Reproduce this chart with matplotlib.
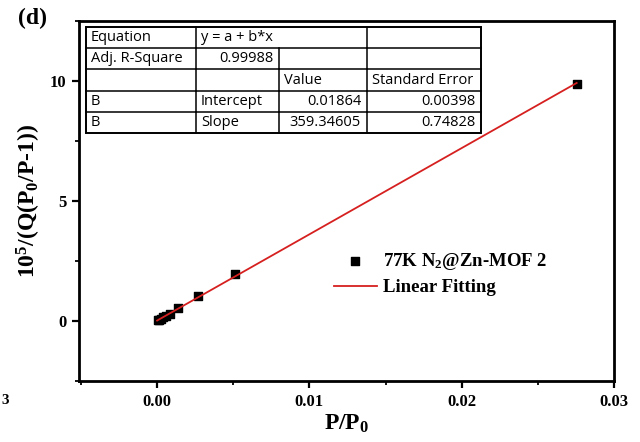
import matplotlib
matplotlib.use("Agg")
import matplotlib.pyplot as plt
from matplotlib.ticker import MultipleLocator
from matplotlib.patches import Rectangle
import numpy as np

# Data
x_pts = [0.00003, 0.00012, 0.00025, 0.0004, 0.0006, 0.00085, 0.0014, 0.00267, 0.00512, 0.02755]
y_pts = [0.03, 0.06, 0.10, 0.15, 0.22, 0.31, 0.55, 1.05, 1.96, 9.87]
intercept = 0.01864
slope = 359.34605
fit_x = [0.0, 0.02755]

table_rows = [
    ["Equation", "y = a + b*x", "", ""],
    ["Adj. R-Square", "0.99988", "", ""],
    ["", "", "Value", "Standard Error"],
    ["B", "Intercept", "0.01864", "0.00398"],
    ["B", "Slope", "359.34605", "0.74828"],
]

serif = "Liberation Serif"
plt.rcParams["mathtext.fontset"] = "custom"
plt.rcParams["mathtext.rm"] = "Liberation Serif:bold"
plt.rcParams["mathtext.it"] = "Liberation Serif:bold"
plt.rcParams["mathtext.bf"] = "Liberation Serif:bold"

W, H = 640, 442
fig = plt.figure(figsize=(W/100, H/100), dpi=100)
L, R, T, B = 79, 614, 21, 381
ax = fig.add_axes([L/W, 1-B/H, (R-L)/W, (B-T)/H])

ax.scatter(x_pts, y_pts, marker="s", s=32, color="black", zorder=3,
           label="77K N$_2$@Zn-MOF 2")
fx = np.array(fit_x)
ax.plot(fx, intercept + slope*fx, color="#d62020", lw=1.3, zorder=4,
        label="Linear Fitting")

ax.set_xlim(-0.00513, 0.03)
ax.set_ylim(-2.5, 12.5)
ax.xaxis.set_minor_locator(MultipleLocator(0.005))
ax.yaxis.set_minor_locator(MultipleLocator(2.5))
ax.set_xticks([0.0, 0.01, 0.02, 0.03])
ax.set_xticklabels(["0.00", "0.01", "0.02", "0.03"])
ax.set_yticks([0, 5, 10])
ax.set_yticklabels(["0", "5", "10"])
for lab in ax.get_xticklabels() + ax.get_yticklabels():
    lab.set_fontfamily(serif)
    lab.set_fontweight("bold")
    lab.set_fontsize(12)
ax.tick_params(which="major", direction="out", length=5, width=1.6, pad=4)
ax.tick_params(which="minor", direction="out", length=3, width=1.3)
for s in ax.spines.values():
    s.set_linewidth(2)

ax.set_xlabel("P/P$_0$", fontfamily=serif, fontweight="bold", fontsize=17, labelpad=2)
ax.set_ylabel("10$^5$/(Q(P$_0$/P-1))", fontfamily=serif, fontweight="bold", fontsize=17, labelpad=5)

leg = ax.legend(loc="upper left", bbox_to_anchor=((326-L)/(R-L), 1-(243-T)/(B-T)),
                frameon=False, prop={"family": serif, "weight": "bold", "size": 13.5},
                handlelength=2.3, handletextpad=0.35, labelspacing=0.42, borderaxespad=0)

# Table drawn in figure pixel coordinates
cols = [86, 196, 279, 367, 481]
rows = [27, 48, 69, 91, 112, 133]
def fx_(px): return px / W
def fy_(py): return 1 - py / H
lw = 1.1
def hline(y, x0, x1, w=lw):
    fig.add_artist(plt.Line2D([fx_(x0), fx_(x1)], [fy_(y), fy_(y)], color="black", lw=w, zorder=11))
def vline(x, y0, y1, w=lw):
    fig.add_artist(plt.Line2D([fx_(x), fx_(x)], [fy_(y0), fy_(y1)], color="black", lw=w, zorder=11))
fig.add_artist(Rectangle((fx_(cols[0]), fy_(rows[-1])), (cols[-1]-cols[0])/W, (rows[-1]-rows[0])/H,
                         transform=fig.transFigure, facecolor="white", edgecolor="black", lw=1.3, zorder=10))
for y in rows:
    hline(y, cols[0], cols[-1])
for i, x in enumerate(cols):
    for r in range(len(rows)-1):
        if r == 0 and i == 2:
            continue
        vline(x, rows[r], rows[r+1])
tfont = dict(family="Open Sans", size=10.5, color="black", zorder=12)
right_cells = {(1, 1), (3, 2), (3, 3), (4, 2), (4, 3)}
for r, row in enumerate(table_rows):
    for c, txt in enumerate(row):
        if not txt:
            continue
        yc = fy_((rows[r] + rows[r+1]) / 2)
        if (r, c) in right_cells:
            fig.text(fx_(cols[c+1] - 6), yc, txt, ha="right", va="center", **tfont)
        else:
            fig.text(fx_(cols[c] + 5), yc, txt, ha="left", va="center", **tfont)

fig.text(fx_(18), fy_(18), "(d)", fontfamily=serif, fontweight="bold", fontsize=17, ha="left", va="center")
fig.text(fx_(1), fy_(401), "3", fontfamily=serif, fontweight="bold", fontsize=11, ha="left", va="center")

fig.savefig("out.png", dpi=100)
